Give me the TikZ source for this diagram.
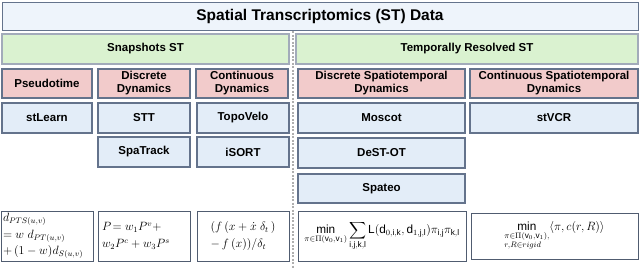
\documentclass[tikz,border=0pt]{standalone}
\usepackage{amsmath,amssymb}
\usepackage{fontspec}
\setmainfont{Liberation Sans}
\usepackage{tikz}
\usetikzlibrary{calc}
\definecolor{boxline}{RGB}{100,115,140}
\definecolor{titlefill}{RGB}{238,244,251}
\definecolor{greenfill}{RGB}{218,242,208}
\definecolor{pinkfill}{RGB}{242,203,203}
\definecolor{bluefill}{RGB}{227,237,248}
\definecolor{sepline}{RGB}{175,175,175}
\tikzset{
  bx/.style   ={draw=boxline, line width=1.2pt, inner sep=1pt, align=center,
                font=\fontsize{11.5}{13}\selectfont\bfseries},
  ttl/.style  ={bx, fill=titlefill, line width=1pt, font=\fontsize{15.5}{18}\selectfont\bfseries},
  grp/.style  ={bx, fill=greenfill, draw=boxline!60},
  cat/.style  ={bx, fill=pinkfill},
  mth/.style  ={bx, fill=bluefill},
  eqn/.style  ={draw=boxline!80!black, line width=0.8pt, inner sep=2pt,
                font=\fontsize{11.8}{16.5}\selectfont},
}
\begin{document}
\begin{tikzpicture}[x=1pt,y=-1pt]
  \useasboundingbox (0,0) rectangle (640,269);
  % title and groups
  \node[ttl,minimum width=636pt,minimum height=28pt] (title) at (320,16) {Spatial Transcriptomics (ST) Data};
  \node[grp,minimum width=287pt,minimum height=30pt] (snap) at (145.5,49) {Snapshots ST};
  \node[grp,minimum width=342pt,minimum height=30pt] (temp) at (467,49) {Temporally Resolved ST};
  % separator
  \coordinate (septop) at (293,31);
  \coordinate (sepbot) at (293,269);
  \draw[sepline,line width=1.2pt,dash pattern=on 2pt off 1.5pt] (septop) -- (sepbot);
  % categories
  \node[cat,minimum width=90pt,minimum height=29pt] (pseudo) at (47,83.5) {Pseudotime};
  \node[cat,minimum width=92pt,minimum height=29pt] (disc) at (144,83.5) {Discrete\\Dynamics};
  \node[cat,minimum width=92pt,minimum height=29pt] (cont) at (242,83.5) {Continuous\\Dynamics};
  \node[cat,minimum width=167pt,minimum height=29pt] (discst) at (381.5,83.5) {Discrete Spatiotemporal\\Dynamics};
  \node[cat,minimum width=168pt,minimum height=29pt] (contst) at (554,83.5) {Continuous Spatiotemporal\\Dynamics};
  % methods
  \node[mth,minimum width=90pt,minimum height=30pt] (stlearn) at (47,118) {stLearn};
  \node[mth,minimum width=92pt,minimum height=30pt] (stt) at (144,118) {STT};
  \node[mth,minimum width=92pt,minimum height=30pt] (topovelo) at (243,118) {TopoVelo};
  \node[mth,minimum width=167pt,minimum height=30pt] (moscot) at (381.5,118) {Moscot};
  \node[mth,minimum width=168pt,minimum height=30pt] (stvcr) at (554,118) {stVCR};
  \node[mth,minimum width=92pt,minimum height=30pt] (spatrack) at (144,152) {SpaTrack};
  \node[mth,minimum width=92pt,minimum height=30pt] (isort) at (243,152) {iSORT};
  \node[mth,minimum width=167pt,minimum height=30pt] (destot) at (381.5,153) {DeST-OT};
  \node[mth,minimum width=167pt,minimum height=29pt] (spateo) at (381.5,188.5) {Spateo};
  % formulas
  \node[eqn,minimum width=92pt,minimum height=50pt,text width=88pt,align=left,inner sep=1pt] (eqpseudo) at (47,236)
    {$d_{PTS(u,v)}$\\$= w\; d_{PT(u,v)}$\\$+\,(1-w)d_{S(u,v)}$};
  \node[eqn,minimum width=92pt,minimum height=50pt,text width=84pt,align=left] (eqdisc) at (144,236)
    {$P\!= w_1P^v +$\\$w_2P^c + w_3P^s$};
  \node[eqn,minimum width=92pt,minimum height=50pt,align=left] (eqcont) at (243,236)
    {$(f\,(x + \dot{x}\;\delta_t\,)$\\$-\,f\,(x))/\delta_t$};
  \node[eqn,minimum width=168pt,minimum height=50pt,inner sep=1pt] (eqdiscst) at (382,236)
    {$\displaystyle\min_{\pi\in\Pi(\mathrm{v}_0,\mathrm{v}_1)}\sum_{\mathrm{i,j,k,l}}
      \mathrm{L}(\mathrm{d}_{0,\mathrm{i,k}},\mathrm{d}_{1,\mathrm{j,l}})\pi_{\mathrm{i,j}}\pi_{\mathrm{k,l}}$};
  \node[eqn,minimum width=167pt,minimum height=46pt] (eqcontst) at (554.5,236)
    {$\displaystyle\min_{\begin{subarray}{l}\pi\in\Pi(\mathrm{v}_0,\mathrm{v}_1),\\ r,R\in rigid\end{subarray}}\langle\pi,c(r,R)\rangle$};
\end{tikzpicture}
\end{document}
